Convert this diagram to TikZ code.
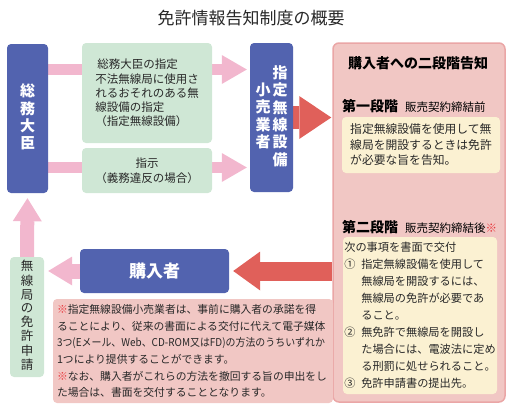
\documentclass[tikz,border=0pt]{standalone}
\usepackage{fontspec}
\setmainfont{Noto Sans CJK JP}
\usepackage{tikz}
\usetikzlibrary{arrows.meta,backgrounds}
\definecolor{mblue}{RGB}{82,99,175}
\definecolor{mgreen}{RGB}{207,231,213}
\definecolor{mpink}{RGB}{242,183,206}
\definecolor{mred}{RGB}{224,96,90}
\definecolor{mpanel}{RGB}{241,199,196}
\definecolor{mpanelline}{RGB}{234,166,166}
\definecolor{myellow}{RGB}{251,241,210}
\definecolor{mkome}{RGB}{232,56,61}
\definecolor{mtext}{RGB}{40,40,40}
\newcommand{\vtext}[1]{\begin{tabular}[c]{@{}c@{}}#1\end{tabular}}
\newcommand{\kome}{\textcolor{mkome}{※}}
\newcommand{\numline}[1]{\makebox[17pt][l]{#1}}
\newcommand{\contline}{\hspace*{17pt}}
\tikzset{
  bluebox/.style={fill=mblue,rounded corners=4pt,text=white,inner sep=0pt},
  greenbox/.style={fill=mgreen,rounded corners=4pt,text=mtext,inner sep=0pt,align=center},
  yelbox/.style={fill=myellow,rounded corners=4pt,text=mtext,inner sep=0pt,align=left},
  pinkarr/.style={draw=mpink,line width=#1},
  redarr/.style={draw=mred,line width=#1},
  tip/.style n args={2}{-{Triangle[length=#1,width=#2,line width=0pt]}}
}
\begin{document}
\begin{tikzpicture}[x=1pt,y=-1pt]
  \useasboundingbox (0,0) rectangle (511,407);
  \node[text=mtext,font=\fontsize{17}{17}\selectfont] (title) at (251,18) {免許情報告知制度の概要};
  % ministry side
  \node[bluebox,minimum width=41pt,minimum height=149pt,font=\bfseries\fontsize{15}{15.5}\selectfont]
    (minister) at (27.5,118.5) {\raisebox{5pt}{\vtext{総\\務\\大\\臣}}};
  \node[greenbox,minimum width=130pt,minimum height=100pt,align=left,font=\fontsize{11.5}{14.2}\selectfont]
    (desig) at (147,93) {\hspace*{2pt}総務大臣の指定\\不法無線局に使用さ\\れるおそれのある無\\線設備の指定\\（指定無線設備）};
  \node[greenbox,minimum width=130pt,minimum height=45pt,font=\fontsize{11.5}{15}\selectfont]
    (instr) at (147,170.5) {指示\\（義務違反の場合）};
  \node[bluebox,minimum width=43pt,minimum height=149pt,font=\bfseries\fontsize{15}{15.5}\selectfont]
    (shop) at (271.5,117.5) {\vtext{小\\売\\業\\者}\hspace{2pt}\vtext{指\\定\\無\\線\\設\\備}};
  % two-stage notice
  \node[fill=mpanel,draw=mpanelline,line width=1.5pt,rounded corners=6pt,minimum width=172pt,minimum height=359pt]
    (notice) at (419,222.5) {};
  \node[text=black,font=\bfseries\fontsize{14}{14}\selectfont] (ntitle) at (418,63) {購入者への二段階告知};
  \node[anchor=west,inner sep=0pt,text=black] (stage1) at (342,106)
    {{\bfseries\fontsize{14}{14}\selectfont 第一段階}\hspace{7pt}{\fontsize{11.5}{11.5}\selectfont 販売契約締結前}};
  \node[yelbox,minimum width=158pt,minimum height=56pt,font=\fontsize{11.8}{15.5}\selectfont]
    (box1) at (421,145) {指定無線設備を使用して無\\線局を開設するときは免許\\が必要な旨を告知。};
  \node[anchor=west,inner sep=0pt,text=black] (stage2) at (342,227)
    {{\bfseries\fontsize{14}{14}\selectfont 第二段階}\hspace{7pt}{\fontsize{11.5}{11.5}\selectfont 販売契約締結後\kome}};
  \node[yelbox,minimum width=154pt,minimum height=157pt,font=\fontsize{11.2}{17}\selectfont]
    (box2) at (420,315.5) {次の事項を書面で交付\\
      \numline{①}指定無線設備を使用して\\
      \contline 無線局を開設するには、\\
      \contline 無線局の免許が必要であ\\
      \contline ること。\\
      \numline{②}無免許で無線局を開設し\\
      \contline た場合には、電波法に定め\\
      \contline る刑罰に処せられること。\\
      \numline{③}免許申請書の提出先。};
  % buyer side
  \node[bluebox,minimum width=149pt,minimum height=44pt,font=\bfseries\fontsize{17}{17}\selectfont]
    (buyer) at (154.5,271) {購入者};
  \node[greenbox,minimum width=34pt,minimum height=120pt,font=\fontsize{12.5}{13}\selectfont]
    (apply) at (27,317) {\vtext{無\\線\\局\\の\\免\\許\\申\\請}};
  \node[fill=mpanel,rounded corners=4pt,minimum width=280pt,minimum height=104pt,inner sep=0pt,
        text width=272pt,align=left,text=mtext,font=\fontsize{10.8}{16.7}\selectfont]
    (note) at (193,351) {\kome 指定無線設備小売業者は、事前に購入者の承諾を得\\
      ることにより、従来の書面による交付に代えて電子媒体\\
      \scalebox{0.92}[1]{3つ(Eメール、Web、CD-ROM又はFD)の方法のうちいずれか}\\
      1つにより提供することができます。\\
      \kome なお、購入者がこれらの方法を撤回する旨の申出をし\\
      た場合は、書面を交付することとなります。};
  % arrows
  \coordinate (r1) at (0,69.5);
  \coordinate (r2) at (0,167.5);
  \begin{scope}[on background layer]
    \draw[pinkarr=11pt,tip={25pt}{29pt},shorten >=3pt] (minister.east |- r1) -- (shop.west |- r1);
    \draw[pinkarr=11pt,tip={25pt}{29pt},shorten >=3pt] (minister.east |- r2) -- (shop.west |- r2);
    \draw[pinkarr=14pt,tip={23pt}{29pt},shorten >=5pt] (apply.north) -- (minister.south);
    \draw[pinkarr=15pt,tip={24pt}{29pt},shorten >=4pt] (buyer.west) -- (apply.east |- buyer.west);
    \draw[redarr=23pt,tip={32pt}{43pt},shorten >=1pt] (shop.east) -- (shop.east -| notice.west);
    \draw[redarr=19pt,tip={27pt}{39pt},shorten >=4pt] (notice.west |- buyer.east) -- (buyer.east);
  \end{scope}
\end{tikzpicture}
\end{document}
